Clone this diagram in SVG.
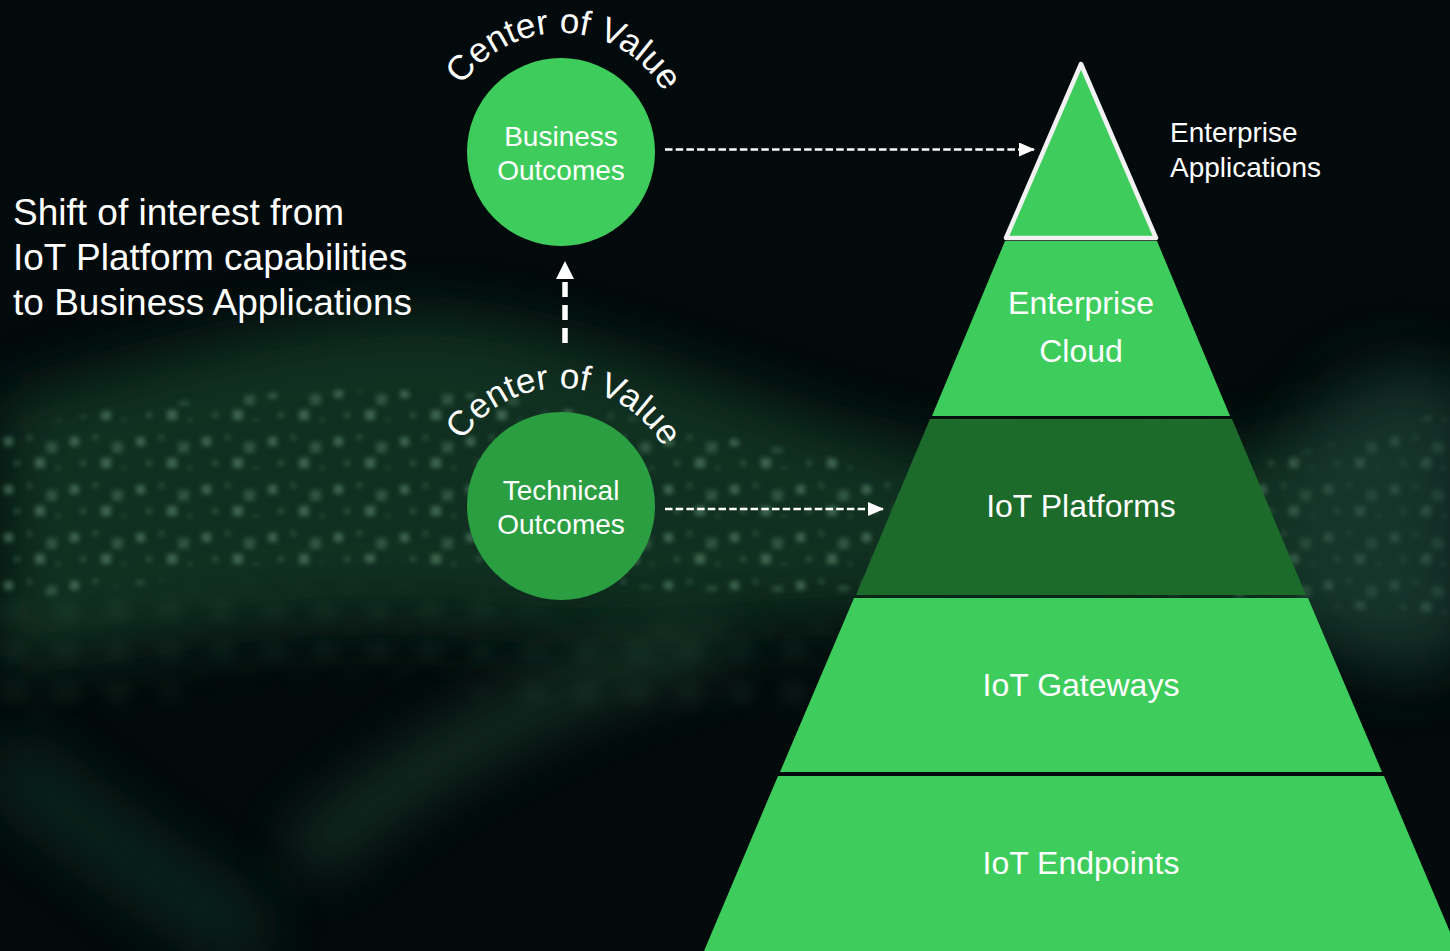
<svg xmlns="http://www.w3.org/2000/svg" width="1450" height="951" viewBox="0 0 1450 951">
<defs>
<style>
.t{font-family:"Liberation Sans",Arial,sans-serif;fill:#ffffff}
.lay{fill:#3ecd5c}
.dk{fill:#1c6b2b}
.dash{stroke:#ffffff;stroke-width:2.7;stroke-dasharray:7.5 3.2;fill:none}
</style>
<filter id="b2" x="-10%" y="-10%" width="120%" height="120%"><feGaussianBlur stdDeviation="2.6"/></filter>
<filter id="b30" x="-30%" y="-30%" width="160%" height="160%"><feGaussianBlur stdDeviation="30"/></filter>
<filter id="b12" x="-30%" y="-30%" width="160%" height="160%"><feGaussianBlur stdDeviation="10"/></filter>
<pattern id="dots" width="66" height="48" patternUnits="userSpaceOnUse">
<rect x="4" y="5" width="9" height="9" fill="#6a9c7c"/>
<rect x="27" y="3" width="5" height="5" fill="#6a9c7c" opacity="0.7"/>
<rect x="46" y="10" width="11" height="11" fill="#5d8f6e" opacity="0.8"/>
<rect x="14" y="28" width="6" height="6" fill="#6a9c7c" opacity="0.6"/>
<rect x="35" y="26" width="10" height="10" fill="#6a9c7c"/>
<rect x="56" y="34" width="4" height="4" fill="#6a9c7c" opacity="0.6"/>
</pattern>
<pattern id="dots2" width="52" height="40" patternUnits="userSpaceOnUse">
<circle cx="14" cy="12" r="8" fill="#5d8f6e"/>
<circle cx="40" cy="30" r="6" fill="#5d8f6e" opacity="0.7"/>
</pattern>
<marker id="ah" markerWidth="16" markerHeight="14" refX="15" refY="7" orient="auto" markerUnits="userSpaceOnUse">
<path d="M0,0 L16,7 L0,14 Z" fill="#ffffff"/>
</marker>
<path id="arc1" d="M442,152 A119,119 0 0 1 680,152"/>
<path id="arc2" d="M443,506 A118,118 0 0 1 679,506"/>
</defs>

<g id="background">
<rect x="0" y="0" width="1450" height="951" fill="#020a0b"/>
<path d="M0,400 C150,360 330,300 480,320 C650,345 820,440 1000,460 C1200,480 1350,420 1450,380 L1450,650 C1300,630 1150,610 1000,610 C800,610 650,640 480,620 C300,600 150,640 0,660 Z" fill="#14402c" opacity="0.7" filter="url(#b30)"/>
<path d="M0,430 C150,400 330,380 480,395 C650,410 820,470 1000,480 C1200,490 1350,440 1450,410 L1450,620 C1300,600 1150,590 1000,590 C800,590 650,600 480,570 C300,545 150,590 0,600 Z" fill="url(#dots)" opacity="0.5" filter="url(#b2)"/>
<path d="M0,600 C150,600 300,560 480,600 C650,640 800,620 1000,620 L1000,700 C800,700 650,720 480,690 C300,660 150,700 0,720 Z" fill="url(#dots2)" opacity="0.3" filter="url(#b12)"/>
<path d="M300,860 C420,760 540,690 720,640" stroke="#2f5e45" stroke-width="40" fill="none" opacity="0.55" filter="url(#b30)"/>
<path d="M0,760 C80,820 180,900 260,940" stroke="#17402d" stroke-width="60" fill="none" opacity="0.55" filter="url(#b30)"/>
<ellipse cx="1400" cy="520" rx="120" ry="160" fill="#1a3a36" opacity="0.5" filter="url(#b30)"/>
</g>

<g id="intro-text">
<text class="t" x="13" y="225" font-size="37">Shift of interest from</text>
<text class="t" x="13" y="270" font-size="37">IoT Platform capabilities</text>
<text class="t" x="13" y="315" font-size="37">to Business Applications</text>
</g>

<g id="pyramid-enterprise-applications">
<path d="M1081,64 L1156,238 L1006,238 Z" class="lay" stroke="#f2f2f2" stroke-width="4.5" stroke-linejoin="round"/>
<text class="t" x="1170" y="142" font-size="28">Enterprise</text>
<text class="t" x="1170" y="177" font-size="28">Applications</text>
</g>

<g id="pyramid-enterprise-cloud">
<path d="M1005,241 L1157,241 L1230,416 L932,416 Z" class="lay"/>
<text class="t" x="1081" y="314" font-size="32" text-anchor="middle">Enterprise</text>
<text class="t" x="1081" y="362" font-size="32" text-anchor="middle">Cloud</text>
</g>

<g id="pyramid-iot-platforms">
<path d="M930,419 L1232,419 L1306,595 L856,595 Z" class="dk"/>
<text class="t" x="1081" y="517" font-size="32" text-anchor="middle">IoT Platforms</text>
</g>

<g id="pyramid-iot-gateways">
<path d="M854,598 L1308,598 L1382,772 L780,772 Z" class="lay"/>
<text class="t" x="1081" y="696" font-size="32" text-anchor="middle">IoT Gateways</text>
</g>

<g id="pyramid-iot-endpoints">
<path d="M778,776 L1384,776 L1458,951 L704,951 Z" class="lay"/>
<text class="t" x="1081" y="874" font-size="32" text-anchor="middle">IoT Endpoints</text>
</g>

<g id="business-outcomes">
<circle cx="561" cy="152" r="94" fill="#3ecd5c"/>
<text class="t" x="561" y="146" font-size="28" text-anchor="middle">Business</text>
<text class="t" x="561" y="180" font-size="28" text-anchor="middle">Outcomes</text>
<text class="t" font-size="35"><textPath href="#arc1" startOffset="51%" text-anchor="middle">Center of Value</textPath></text>
</g>

<g id="technical-outcomes">
<circle cx="561" cy="506" r="94" fill="#2a9e41"/>
<text class="t" x="561" y="500" font-size="28" text-anchor="middle">Technical</text>
<text class="t" x="561" y="534" font-size="28" text-anchor="middle">Outcomes</text>
<text class="t" font-size="35"><textPath href="#arc2" startOffset="51%" text-anchor="middle">Center of Value</textPath></text>
</g>

<g id="connectors">
<line x1="665" y1="149.5" x2="1034" y2="149.5" class="dash" marker-end="url(#ah)"/>
<line x1="665" y1="509" x2="883" y2="509" class="dash" marker-end="url(#ah)"/>
<line x1="565" y1="343" x2="565" y2="278" stroke="#ffffff" stroke-width="5.5" stroke-dasharray="15 8"/>
<path d="M556,279 L565,261 L574,279 Z" fill="#ffffff"/>
</g>
</svg>
